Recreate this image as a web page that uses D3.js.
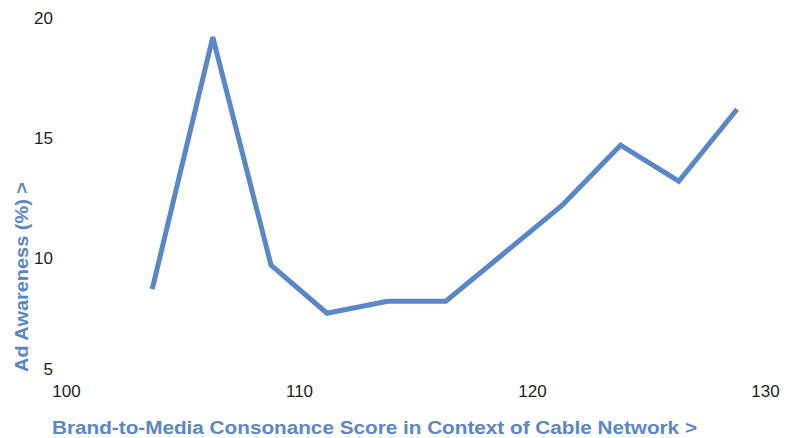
<!DOCTYPE html>
<html><head><meta charset="utf-8">
<script src="https://cdn.jsdelivr.net/npm/d3@7"></script>
<style>body{margin:0;background:#fff}svg{display:block}</style>
</head><body>
<svg id="c" width="793" height="438"></svg>
<script>
const scores = [103.7, 106.3, 108.8, 111.2, 113.8, 116.3, 118.8, 121.3, 123.8, 126.3, 128.8];
const awareness = [8.7, 19.2, 9.7, 7.7, 8.2, 8.2, 10.2, 12.2, 14.7, 13.2, 16.2];
const xTicks = [100, 110, 120, 130];
const yTicks = [5, 10, 15, 20];
const xTitle = "Brand-to-Media Consonance Score in Context of Cable Network >";
const yTitle = "Ad Awareness (%) >";

const svg = d3.select("#c");
const x = d3.scaleLinear().domain([100, 130]).range([66, 765]);
const y = d3.scaleLinear().domain([5, 20]).range([378, 18]);
const font = "'Liberation Sans', Arial, Helvetica, sans-serif";
const blue = "#5a87c7";

const yAxis = d3.axisLeft(y).tickValues(yTicks).tickSize(0).tickPadding(0).tickFormat(d3.format("d"));
const gy = svg.append("g").attr("transform", "translate(53,0)").call(yAxis);
gy.select(".domain").remove();
gy.selectAll("text").attr("font-family", font).attr("font-size", 17).attr("fill", "#231f20")
  .attr("dy", d => d === 5 ? "-0.2em" : "0.32em");

const xAxis = d3.axisBottom(x).tickValues(xTicks).tickSize(0).tickPadding(0).tickFormat(d3.format("d"));
const gx = svg.append("g").attr("transform", "translate(0,385)").call(xAxis);
gx.select(".domain").remove();
gx.selectAll("text").attr("font-family", font).attr("font-size", 17).attr("fill", "#231f20");

const data = scores.map((s, i) => ({s, a: awareness[i]}));
svg.append("path").datum(data)
  .attr("fill", "none").attr("stroke", blue).attr("stroke-width", 5)
  .attr("stroke-linejoin", "miter")
  .attr("d", d3.line().x(d => x(d.s)).y(d => y(d.a)));

svg.append("text").attr("x", 52).attr("y", 434)
  .attr("font-family", font).attr("font-weight", "bold").attr("font-size", 17.5)
  .attr("textLength", 645).attr("lengthAdjust", "spacingAndGlyphs")
  .attr("fill", blue).text(xTitle);

svg.append("text").attr("transform", "translate(28,277) rotate(-90)")
  .attr("text-anchor", "middle")
  .attr("font-family", font).attr("font-weight", "bold").attr("font-size", 17.5)
  .attr("textLength", 190).attr("lengthAdjust", "spacingAndGlyphs")
  .attr("fill", blue).text(yTitle);
</script>
</body></html>
